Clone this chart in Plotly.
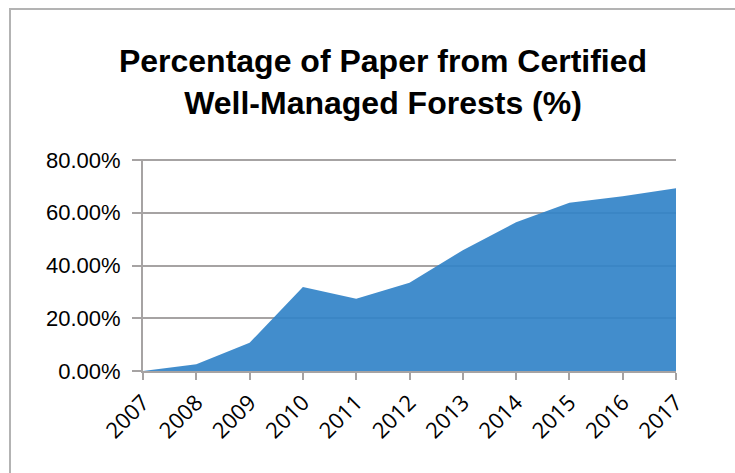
import plotly.graph_objects as go

years = ["2007", "2008", "2009", "2010", "2011", "2012", "2013", "2014", "2015", "2016", "2017"]
values = [0.0, 2.6, 10.7, 31.9, 27.4, 33.5, 45.8, 56.4, 63.8, 66.3, 69.3]
y_ticks = [0, 20, 40, 60, 80]
y_tick_labels = ["0.00%", "20.00%", "40.00%", "60.00%", "80.00%"]
title_text = "Percentage of Paper from Certified<br>Well-Managed Forests (%)"

W, H = 735, 473
L, R, T, B = 143, 59, 159, 102
pw, ph = W - L - R, H - T - B

fig = go.Figure()
fig.add_trace(go.Scatter(
    x=years, y=values, mode="lines", fill="tozeroy",
    line=dict(width=0, color="rgba(50,131,200,0.92)"),
    fillcolor="rgba(50,131,200,0.92)",
    hoverinfo="skip", showlegend=False,
))

def px_to_paper_x(px):
    return (px - L) / pw

def px_to_paper_y(py):
    return (H - B - py) / ph

bx0, by0 = px_to_paper_x(10), px_to_paper_y(480)
bx1, by1 = px_to_paper_x(10), px_to_paper_y(9)
bx2, by2 = px_to_paper_x(760), px_to_paper_y(9)
border_path = f"M {bx0},{by0} L {bx1},{by1} L {bx2},{by2}"

fig.update_layout(
    width=W, height=H,
    margin=dict(l=L, r=R, t=T, b=B),
    paper_bgcolor="white", plot_bgcolor="rgba(0,0,0,0)",
    title=dict(text=title_text, x=383 / W, xanchor="center", y=1 - 72 / H, yanchor="middle",
               font=dict(family="Liberation Sans, Arial", size=32, color="black", weight="bold")),
    xaxis=dict(
        type="category", range=[0, len(years) - 1],
        showline=True, linecolor="#a6a3a3", linewidth=2,
        ticks="outside", ticklen=7, tickwidth=2, tickcolor="#a6a3a3",
        tickangle=-45, showgrid=False, zeroline=False,
        tickfont=dict(family="Open Sans", size=22, color="black"),
        ticklabelstandoff=1,
    ),
    yaxis=dict(
        range=[0, 80.4], tickvals=y_ticks, ticktext=y_tick_labels,
        showline=True, linecolor="#a6a3a3", linewidth=2,
        ticks="outside", ticklen=9, tickwidth=2, tickcolor="#a6a3a3",
        showgrid=True, gridcolor="#a6a3a3", gridwidth=2, zeroline=False,
        tickfont=dict(family="Liberation Sans, Arial", size=22, color="black"),
        ticklabelstandoff=7,
        layer="above traces",
    ),
    shapes=[dict(type="path", xref="paper", yref="paper", path=border_path,
                 line=dict(color="#b3b3b3", width=2), fillcolor="rgba(0,0,0,0)", layer="below")],
)

fig.write_html("out.html")
